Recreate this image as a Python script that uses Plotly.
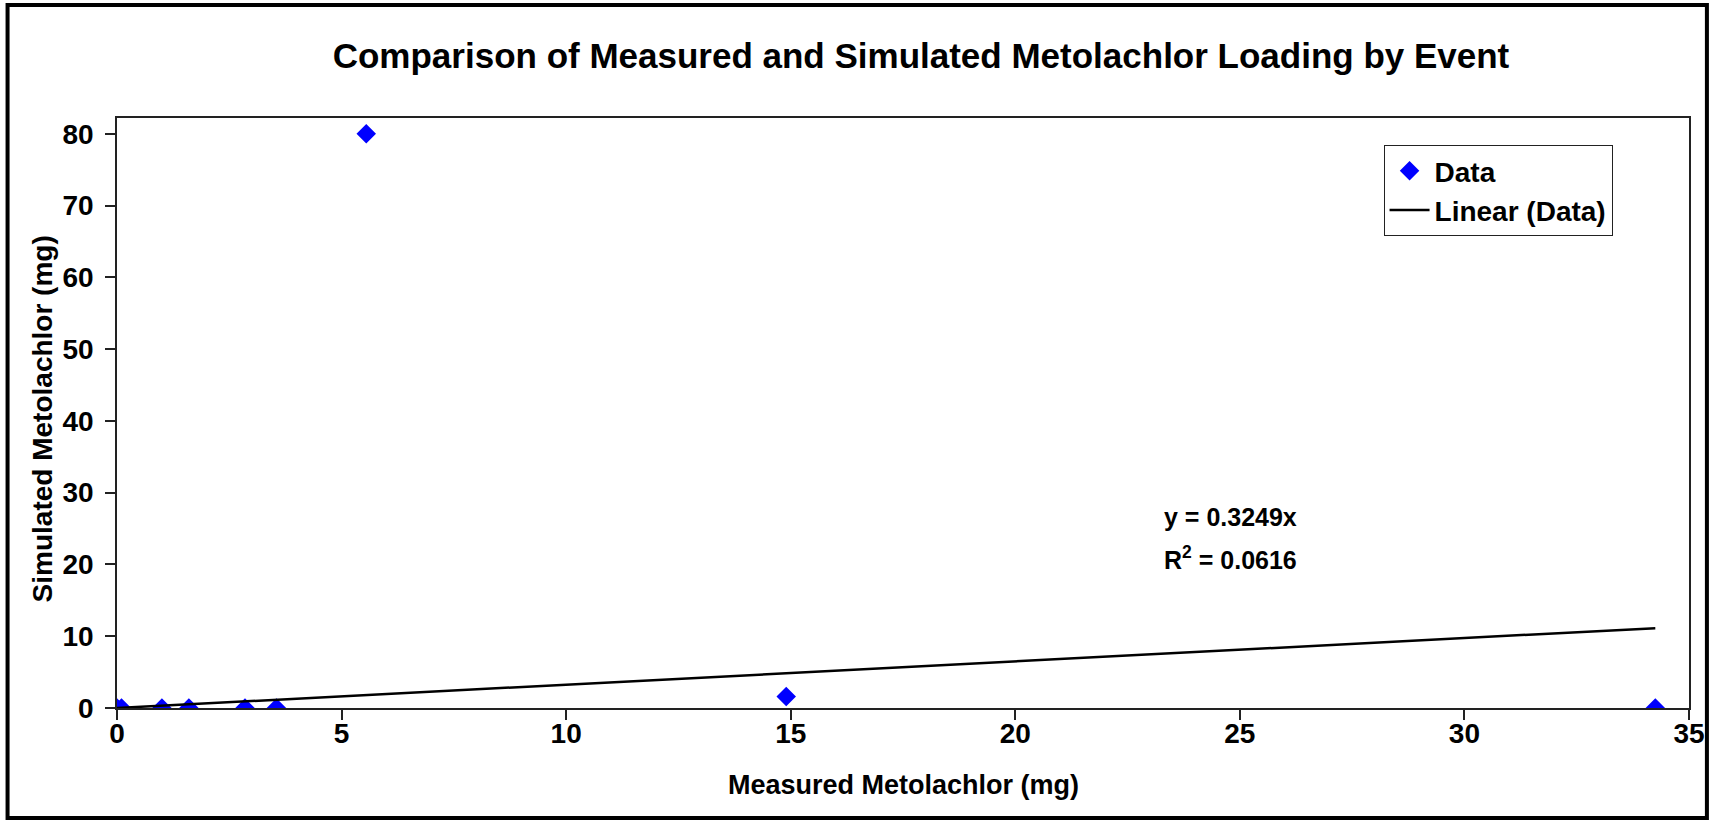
import plotly.graph_objects as go

# ---- data ----
measured_mg = [0.0, 0.1, 1.0, 1.6, 2.85, 3.55, 5.55, 14.9, 34.25]
simulated_mg = [0.0, 0.0, 0.0, 0.0, 0.0, 0.0, 80.0, 1.6, 0.0]
trend_slope = 0.3249
trend_r2 = 0.0616
x_ticks = [0, 5, 10, 15, 20, 25, 30, 35]
y_ticks = [0, 10, 20, 30, 40, 50, 60, 70, 80]

title_text = "Comparison of Measured and Simulated Metolachlor Loading by Event"
x_title = "Measured Metolachlor (mg)"
y_title = "Simulated Metolachlor (mg)"

# ---- layout geometry (pixels) ----
W, H = 1717, 820
L, R, T, B = 117, 1697, 118, 708
PW, PH = R - L, B - T
FONT = "Arial, Liberation Sans, sans-serif"


def px(xp):
    return (xp - L) / PW


def py(yp):
    return (B - yp) / PH


trend_x = [0.0, max(measured_mg)]
trend_y = [trend_slope * v for v in trend_x]

fig = go.Figure()
fig.add_trace(go.Scatter(
    x=measured_mg, y=simulated_mg, mode="markers", name="Data",
    marker=dict(symbol="diamond", size=15, color="#0000FF",
                line=dict(width=0)),
))
fig.add_trace(go.Scatter(
    x=trend_x, y=trend_y, mode="lines", name="Linear (Data)",
    line=dict(color="black", width=2.5),
))

axis_common = dict(
    showgrid=False, zeroline=False, showline=True, linecolor="#222",
    linewidth=1.5, mirror=True, ticks="outside", ticklen=10, tickwidth=1.5,
    tickcolor="#222", tickfont=dict(family=FONT, size=28, color="black", weight="bold"),
)

fig.update_layout(
    width=W, height=H,
    margin=dict(l=L, r=W - R, t=T, b=H - B),
    paper_bgcolor="white", plot_bgcolor="white",
    title=dict(text=title_text, x=921 / W, xanchor="center",
               y=1 - 56 / H, yanchor="middle", yref="container", xref="container",
               font=dict(family=FONT, size=35, color="black", weight="bold")),
    xaxis=dict(range=[0, 35], tickvals=x_ticks, ticklabelstandoff=-10, **axis_common),
    yaxis=dict(range=[0, 82.2], tickvals=y_ticks, ticklabelstandoff=6, **axis_common),
    showlegend=True,
    legend=dict(x=px(1390), y=py(145), xanchor="left", yanchor="top",
                bgcolor="white", bordercolor="#222", borderwidth=1,
                font=dict(family=FONT, size=28, color="black", weight="bold"),
                tracegroupgap=0, itemwidth=40),
)

annotations = [
    dict(text=x_title, x=px(907), y=py(785), xref="paper", yref="paper",
         showarrow=False, xanchor="center", yanchor="middle",
         font=dict(family=FONT, size=27, color="black", weight="bold")),
    dict(text=y_title, x=px(42), y=py(419), xref="paper", yref="paper",
         showarrow=False, xanchor="center", yanchor="middle", textangle=-90,
         font=dict(family=FONT, size=28, color="black", weight="bold")),
    dict(text=f"y = {trend_slope}x", x=px(1167), y=py(517), xref="paper", yref="paper",
         showarrow=False, xanchor="left", yanchor="middle",
         font=dict(family=FONT, size=25, color="black", weight="bold")),
    dict(text=f"R<sup>2</sup> = {trend_r2}", x=px(1167), y=py(558), xref="paper", yref="paper",
         showarrow=False, xanchor="left", yanchor="middle",
         font=dict(family=FONT, size=25, color="black", weight="bold")),
]
fig.update_layout(annotations=annotations)

# outer frame of the chart
frame = dict(type="rect", xref="paper", yref="paper",
             x0=px(7), x1=px(1715), y0=py(818), y1=py(5),
             line=dict(color="black", width=4), fillcolor="rgba(0,0,0,0)", layer="above")
fig.update_layout(shapes=[frame])

fig.write_html("out.html")
